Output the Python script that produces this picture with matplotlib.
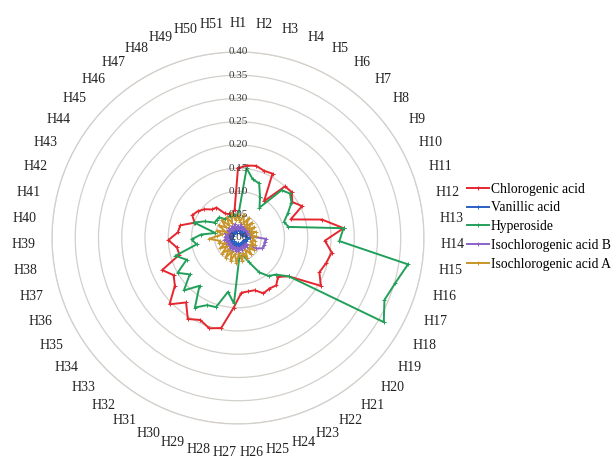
import numpy as np
import matplotlib.pyplot as plt

plt.rcParams["font.family"] = ["Liberation Serif", "DejaVu Serif"]

categories = [f"H{i}" for i in range(1, 52)]

chlorogenic = [
    0.150, 0.157, 0.160, 0.155, 0.157, 0.097, 0.150, 0.152, 0.140, 0.154,
    0.120, 0.185, 0.228, 0.187, 0.204, 0.197, 0.190, 0.206, 0.137, 0.120,
    0.131, 0.128, 0.131, 0.118, 0.117, 0.118, 0.150, 0.197, 0.204, 0.194,
    0.205, 0.178, 0.205, 0.170, 0.160, 0.177, 0.131, 0.133, 0.150, 0.130,
    0.127, 0.099, 0.110, 0.104, 0.095, 0.083, 0.080, 0.060, 0.055, 0.055,
    0.060,
]
vanillic = [
    0.020, 0.015, 0.022, 0.012, 0.018, 0.010, 0.020, 0.015, 0.022, 0.012,
    0.018, 0.015, 0.020, 0.025, 0.020, 0.015, 0.018, 0.012, 0.020, 0.015,
    0.022, 0.012, 0.018, 0.015, 0.020, 0.010, 0.022, 0.015, 0.018, 0.012,
    0.020, 0.015, 0.022, 0.012, 0.018, 0.015, 0.020, 0.012, 0.018, 0.015,
    0.022, 0.012, 0.020, 0.015, 0.018, 0.012, 0.020, 0.015, 0.022, 0.012,
    0.018,
]
hyperoside = [
    0.045, 0.151, 0.130, 0.126, 0.100, 0.080, 0.139, 0.147, 0.138, 0.120,
    0.105, 0.111, 0.228, 0.218, 0.370, 0.352, 0.342, 0.362, 0.137, 0.113,
    0.105, 0.087, 0.058, 0.040, 0.040, 0.043, 0.141, 0.118, 0.156, 0.159,
    0.176, 0.132, 0.162, 0.130, 0.150, 0.120, 0.140, 0.090, 0.100, 0.080,
    0.050, 0.100, 0.080, 0.060, 0.060, 0.060, 0.050, 0.050, 0.050, 0.050,
    0.050,
]
iso_b = [
    0.025, 0.020, 0.030, 0.022, 0.028, 0.020, 0.030, 0.022, 0.028, 0.020,
    0.030, 0.025, 0.030, 0.060, 0.058, 0.058, 0.057, 0.045, 0.020, 0.028,
    0.022, 0.030, 0.020, 0.028, 0.022, 0.030, 0.020, 0.028, 0.022, 0.030,
    0.020, 0.028, 0.022, 0.030, 0.020, 0.028, 0.022, 0.030, 0.020, 0.028,
    0.022, 0.030, 0.020, 0.028, 0.022, 0.030, 0.020, 0.028, 0.022, 0.030,
    0.020,
]
iso_a = [
    0.050, 0.035, 0.052, 0.033, 0.048, 0.030, 0.045, 0.028, 0.042, 0.030,
    0.040, 0.028, 0.038, 0.030, 0.036, 0.028, 0.040, 0.030, 0.042, 0.032,
    0.045, 0.030, 0.048, 0.035, 0.050, 0.033, 0.055, 0.035, 0.052, 0.033,
    0.050, 0.032, 0.048, 0.030, 0.045, 0.030, 0.042, 0.040, 0.062, 0.045,
    0.035, 0.048, 0.030, 0.050, 0.035, 0.052, 0.033, 0.050, 0.035, 0.055,
    0.038,
]

series = [
    ("Chlorogenic acid", chlorogenic, "#e5262f"),
    ("Vanillic acid", vanillic, "#2b5fc4"),
    ("Hyperoside", hyperoside, "#22a05a"),
    ("Isochlorogenic acid B", iso_b, "#8b62c6"),
    ("Isochlorogenic acid A", iso_a, "#c8952a"),
]

r_ticks = [0.00, 0.05, 0.10, 0.15, 0.20, 0.25, 0.30, 0.35, 0.40]

n = len(categories)
angles = np.linspace(0, 2 * np.pi, n, endpoint=False)
closed = np.append(angles, angles[0])

fig = plt.figure(figsize=(6.16, 4.59), dpi=100)
fig.patch.set_facecolor("white")
ax = fig.add_axes([0.0844, 0.0763, 0.6039, 0.8105], projection="polar")
ax.set_theta_zero_location("N")
ax.set_theta_direction(-1)
ax.set_ylim(0, 0.40)
ax.set_facecolor("none")

ax.set_xticks([])
ax.set_yticks(r_ticks[1:])
ax.set_yticklabels([])
ax.yaxis.grid(True, color="#d3cfcb", lw=0.9)
ax.spines["polar"].set_color("#d3cfcb")
ax.spines["polar"].set_linewidth(0.9)

for name, vals, color in series:
    ax.plot(closed, np.append(vals, vals[0]), color=color, lw=1.4,
            marker="+", ms=2.5, mew=0.7, label=name)

for r in r_ticks:
    ax.text(0, r, f"{r:.2f}", ha="center", va="center", fontsize=8,
            color="#3a3a3a")

for ang, cat in zip(angles, categories):
    ax.text(ang, 0.462, cat, ha="center", va="center", fontsize=10,
            color="#222222", clip_on=False)

fig.legend(loc="upper left", bbox_to_anchor=(0.758, 0.602), frameon=False,
           fontsize=9.8, handlelength=1.6, handletextpad=0.15,
           labelspacing=0.42, borderaxespad=0, borderpad=0)

fig.savefig("out.png", dpi=100)
